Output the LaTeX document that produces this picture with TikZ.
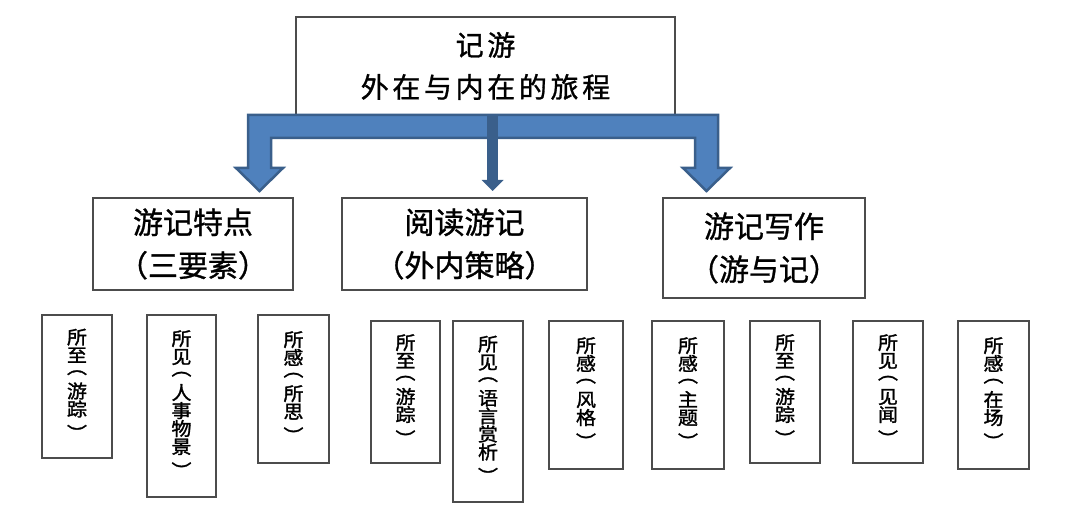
\documentclass[tikz,border=0pt]{standalone}
\usepackage{fontspec}
\newfontfamily\cjksmall{Noto Sans CJK SC}[FakeBold=1.6, FakeStretch=1.08]
\newfontfamily\cjktitle{Noto Sans CJK SC}[FakeBold=1.0]
\newfontfamily\cjktop{Noto Sans CJK SC}[FakeBold=1.0, LetterSpace=13]
\definecolor{arrfill}{HTML}{4F81BD}
\definecolor{arrline}{HTML}{3A5F8B}
\newcommand{\vopen}{\raisebox{0.34em}[0.88em][0.12em]{︵}}
\newcommand{\vclose}{\raisebox{-0.34em}[0.88em][0.12em]{︶}}
\newcommand{\smallsetup}{\cjksmall\fontsize{18.5pt}{18pt}\selectfont\setlength{\lineskiplimit}{-20pt}\setlength{\lineskip}{0pt}}
\begin{document}
\begin{tikzpicture}[x=1pt,y=-1pt,
  bx/.style={draw=black!70, line width=1.2pt, fill=white, inner sep=0pt},
  ttl/.style={font=\cjktitle\fontsize{30pt}{43pt}\selectfont, align=center, inner sep=0pt},
  toptxt/.style={font=\cjktop\fontsize{28pt}{42pt}\selectfont, align=center, inner sep=0pt},
  vtxt/.style={font=\smallsetup, align=center, inner sep=0pt, yshift=4pt},
  bigarrow/.style={fill=arrfill, draw=arrline, line width=2.5pt, line join=miter},
  thinarrow/.style={fill=arrline}]
\useasboundingbox (0,0) rectangle (1080,513);
% top box
\node[bx, minimum width=379pt, minimum height=98pt] (top) at (485.5,66) {};
\node[toptxt] (toptext) at (top.center) {记游\\外在与内在的旅程};
% middle boxes
\node[bx, minimum width=200pt, minimum height=92pt] (m1) at (193,244) {};
\node[ttl] (m1t) at (m1.center) {游记特点\\（三要素）};
\node[bx, minimum width=245pt, minimum height=92pt] (m2) at (464.5,244) {};
\node[ttl] (m2t) at (m2.center) {阅读游记\\（外内策略）};
\node[bx, minimum width=202pt, minimum height=100pt] (m3) at (764,248) {};
\node[ttl] (m3t) at (m3.center) {游记写作\\（游与记）};
% big arrow
\draw[bigarrow] (248,168) -- (248,115) -- (718,115) -- (718,168) -- (730,168) -- (706.5,191) -- (683,168) -- (695,168) -- (695,138) -- (271,138) -- (271,168) -- (283,168) -- (259.5,191) -- (236,168) -- cycle;
% center thin arrow
\fill[thinarrow] (487,114) rectangle (498,180);
\fill[thinarrow] (481.5,180) -- (503.5,180) -- (492.5,191) -- cycle;
% small boxes
\node[bx, minimum width=70pt, minimum height=143pt] (b1) at (77,386.5) {};
\node[vtxt] (b1t) at (b1.center) {所\\至\\\vopen\\游\\踪\\\vclose};
\node[bx, minimum width=69pt, minimum height=182pt] (b2) at (181.5,406) {};
\node[vtxt] (b2t) at (b2.center) {所\\见\\\vopen\\人\\事\\物\\景\\\vclose};
\node[bx, minimum width=71pt, minimum height=148pt] (b3) at (293.5,389) {};
\node[vtxt] (b3t) at (b3.center) {所\\感\\\vopen\\所\\思\\\vclose};
\node[bx, minimum width=69pt, minimum height=142pt] (b4) at (405.5,392) {};
\node[vtxt] (b4t) at (b4.center) {所\\至\\\vopen\\游\\踪\\\vclose};
\node[bx, minimum width=70pt, minimum height=181pt] (b5) at (488,411.5) {};
\node[vtxt] (b5t) at (b5.center) {所\\见\\\vopen\\语\\言\\赏\\析\\\vclose};
\node[bx, minimum width=74pt, minimum height=148pt] (b6) at (586,395) {};
\node[vtxt] (b6t) at (b6.center) {所\\感\\\vopen\\风\\格\\\vclose};
\node[bx, minimum width=72pt, minimum height=148pt] (b7) at (688,395) {};
\node[vtxt] (b7t) at (b7.center) {所\\感\\\vopen\\主\\题\\\vclose};
\node[bx, minimum width=70pt, minimum height=142pt] (b8) at (785,392) {};
\node[vtxt] (b8t) at (b8.center) {所\\至\\\vopen\\游\\踪\\\vclose};
\node[bx, minimum width=70pt, minimum height=142pt] (b9) at (888,392) {};
\node[vtxt] (b9t) at (b9.center) {所\\见\\\vopen\\见\\闻\\\vclose};
\node[bx, minimum width=71pt, minimum height=148pt] (b10) at (993.5,395) {};
\node[vtxt] (b10t) at (b10.center) {所\\感\\\vopen\\在\\场\\\vclose};
\end{tikzpicture}
\end{document}
